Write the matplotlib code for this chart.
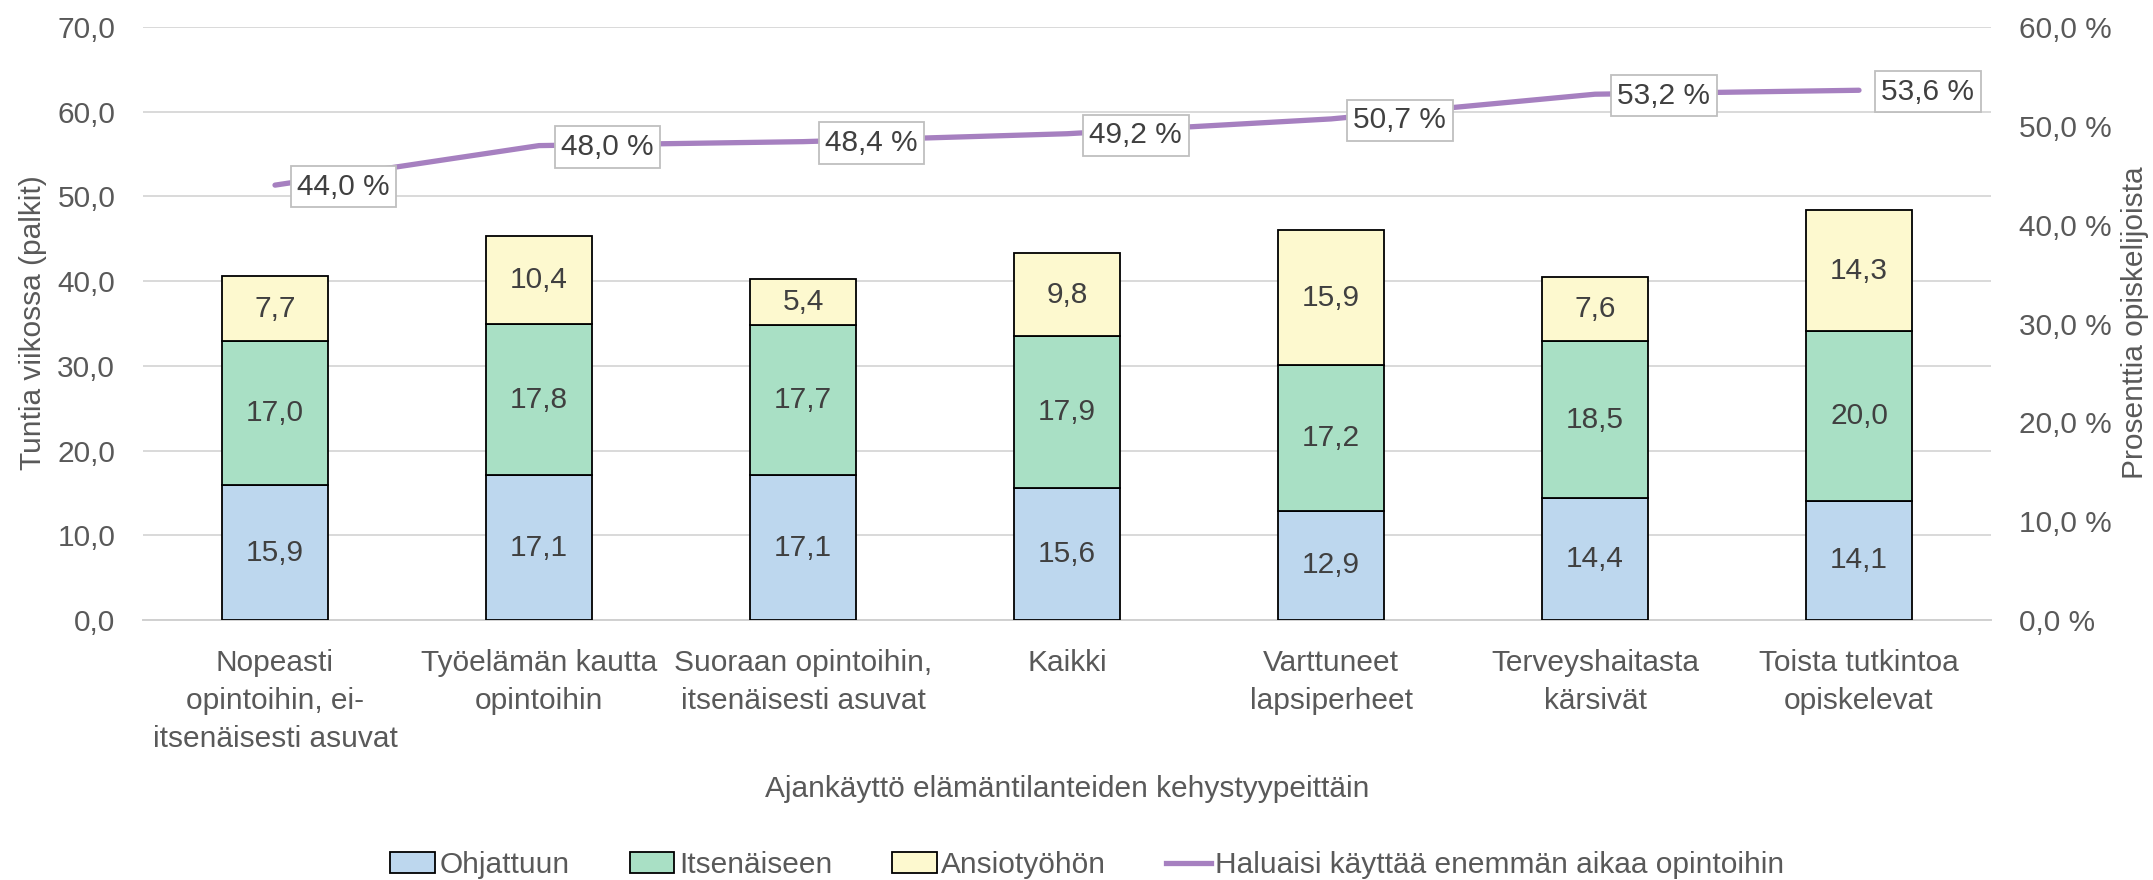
import numpy as np
import matplotlib
matplotlib.use("Agg")
import matplotlib.pyplot as plt
from matplotlib.patches import Patch
from matplotlib.lines import Line2D

plt.rcParams['font.family'] = ['Liberation Sans', 'DejaVu Sans']

categories = [
    "Nopeasti\nopintoihin, ei-\nitsenäisesti asuvat",
    "Työelämän kautta\nopintoihin",
    "Suoraan opintoihin,\nitsenäisesti asuvat",
    "Kaikki",
    "Varttuneet\nlapsiperheet",
    "Terveyshaitasta\nkärsivät",
    "Toista tutkintoa\nopiskelevat",
]
ohjattuun = [15.9, 17.1, 17.1, 15.6, 12.9, 14.4, 14.1]
itsenaiseen = [17.0, 17.8, 17.7, 17.9, 17.2, 18.5, 20.0]
ansiotyohon = [7.7, 10.4, 5.4, 9.8, 15.9, 7.6, 14.3]
haluaisi = [44.0, 48.0, 48.4, 49.2, 50.7, 53.2, 53.6]

series_names = ["Ohjattuun", "Itsenäiseen", "Ansiotyöhön"]
line_name = "Haluaisi käyttää enemmän aikaa opintoihin"
colors = ["#BDD7EE", "#A9E0C5", "#FDF9CF"]
line_color = "#A680C0"
txt = "#404040"
tick_col = "#595959"
fs = 21.5

W, H = 2153, 880
fig = plt.figure(figsize=(W / 100, H / 100), dpi=100)
L, R, T, B = 143, 1991, 27, 620
ax = fig.add_axes([L / W, 1 - B / H, (R - L) / W, (B - T) / H])

def fmt(v):
    return f"{v:.1f}".replace(".", ",")

x = np.arange(len(categories))
bottom = np.zeros(len(categories))
for vals, col in zip([ohjattuun, itsenaiseen, ansiotyohon], colors):
    vals = np.array(vals)
    ax.bar(x, vals, 0.4, bottom=bottom, color=col, edgecolor="black", linewidth=1.3, zorder=3)
    for xi, b, v in zip(x, bottom, vals):
        ax.text(xi, b + v / 2, fmt(v), ha="center", va="center", fontsize=fs, color=txt, zorder=4)
    bottom += vals

ax.set_xlim(-0.5, len(categories) - 0.5)
ax.set_ylim(0, 70)
ax.set_yticks(np.arange(0, 71, 10))
ax.set_yticklabels([fmt(v) for v in np.arange(0, 71, 10)])
ax.set_xticks(x)
ax.set_xticklabels(categories, linespacing=1.45)
ax.tick_params(axis="both", length=0, labelsize=fs, labelcolor=tick_col)
ax.tick_params(axis="y", pad=20)
ax.tick_params(axis="x", pad=21)
ax.yaxis.grid(True, color="#D9D9D9", linewidth=1.4)
ax.set_axisbelow(True)
for s in ["top", "left", "right"]:
    ax.spines[s].set_visible(False)
ax.spines["bottom"].set_color("#D0D0D0")
ax.spines["bottom"].set_linewidth(1.4)

ax2 = ax.twinx()
ax2.set_ylim(0, 60)
ax2.set_yticks(np.arange(0, 61, 10))
ax2.set_yticklabels([fmt(v) + " %" for v in np.arange(0, 61, 10)])
ax2.tick_params(axis="y", length=0, labelsize=fs, labelcolor=tick_col, pad=20)
for s in ax2.spines.values():
    s.set_visible(False)
ax2.plot(x, haluaisi, color=line_color, linewidth=3.8, solid_capstyle="round", zorder=5)
for xi, v in zip(x, haluaisi):
    ax2.annotate(fmt(v) + " %", (xi, v), xytext=(16, -1), textcoords="offset points",
                 ha="left", va="center", fontsize=fs, color=txt, zorder=6,
                 bbox=dict(boxstyle="square,pad=0.22", fc="white", ec="#BFBFBF", lw=1.3))

fig.text(33 / W, 1 - 323 / H, "Tuntia viikossa (palkit)", rotation=90, ha="center", va="center",
         fontsize=fs, color=tick_col)
fig.text(2135 / W, 1 - 323 / H, "Prosenttia opiskelijoista", rotation=90, ha="center", va="center",
         fontsize=fs, color=tick_col)
fig.text((L + R) / 2 / W, 1 - 789 / H, "Ajankäyttö elämäntilanteiden kehystyypeittäin",
         ha="center", va="center", fontsize=fs, color=tick_col)

handles = [Patch(facecolor=c, edgecolor="black", linewidth=1.3) for c in colors]
handles.append(Line2D([0], [0], color=line_color, linewidth=3.8))
fig.legend(handles, series_names + [line_name], loc="center", bbox_to_anchor=(0.505, 1 - 865 / H),
           ncol=4, frameon=False, fontsize=fs, handlelength=1.5, handletextpad=0.15,
           columnspacing=2.0, labelcolor=tick_col)

fig.savefig("out.png", dpi=100)
